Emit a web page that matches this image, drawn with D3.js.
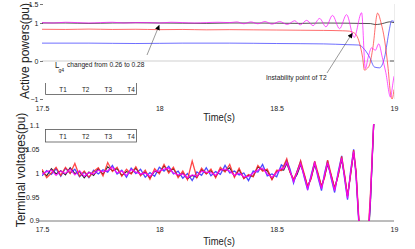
<!DOCTYPE html>
<html>
<head>
<meta charset="utf-8">
<script src="https://cdn.jsdelivr.net/npm/d3@7"></script>
<style>
  body { margin: 0; background: #fff; }
  svg { display: block; font-family: "Liberation Sans", Arial, sans-serif; }
</style>
</head>
<body>
<svg id="chart" width="415" height="249"></svg>
<script>
// ---- data ----
const xTicks = [17.5, 18, 18.5, 19]
const pTicks = [-1, 0, 1, 1.5]
const vTicks = [0.9, 0.95, 1, 1.05, 1.1]
const legendNames = ['T1', 'T2', 'T3', 'T4']

// active powers (top)
const pBlackT = [17.5, 17.6, 17.7, 17.8, 17.9, 18.0, 18.1, 18.2, 18.3, 18.4, 18.5, 18.6, 18.7, 18.8, 18.85, 18.9, 18.92, 18.94, 18.96, 18.98, 19.0]
const pBlackV = [1.0, 1.0, 0.99, 1.0, 1.005, 1.0, 0.995, 0.99, 1.0, 1.0, 0.995, 0.99, 1.0, 0.995, 0.99, 0.985, 0.96, 0.97, 1.0, 1.03, 1.01]

const pBlueT = [17.5, 17.7, 17.9, 18.1, 18.3, 18.5, 18.7, 18.8, 18.85, 18.875, 18.896, 18.917, 18.938, 18.96, 18.97, 18.98, 18.99, 19.0]
const pBlueV = [0.47, 0.47, 0.46, 0.47, 0.47, 0.46, 0.45, 0.43, 0.42, 0.3, 0.1, -0.16, -0.18, 0.1, 0.45, 0.82, 1.06, 1.04]

const pRedT = [17.5, 17.6, 17.7, 17.8, 17.9, 18.0, 18.1, 18.2, 18.3, 18.4, 18.5, 18.6, 18.7, 18.78, 18.81, 18.823, 18.84, 18.853, 18.866, 18.874, 18.885, 18.896, 18.91, 18.93, 18.945, 18.96, 18.975, 18.985, 18.992, 19.0]
const pRedV = [0.835, 0.83, 0.84, 0.83, 0.835, 0.825, 0.83, 0.82, 0.825, 0.82, 0.815, 0.81, 0.805, 0.795, 0.785, 0.76, 0.68, 0.47, 0.1, -0.24, -0.2, -0.1, 0.35, 1.26, 1.0, 0.55, -0.2, -0.85, -1.0, -0.75]

const pMagT = [17.5, 17.55, 17.6, 17.65, 17.7, 17.75, 17.8, 17.85, 17.9, 17.95, 18.0, 18.05, 18.1, 18.15, 18.2, 18.25, 18.3,
  18.33, 18.36, 18.39, 18.42, 18.45, 18.48, 18.513, 18.545, 18.577, 18.6, 18.628, 18.655, 18.683, 18.71, 18.738, 18.768, 18.798, 18.83, 18.862,
  18.878, 18.89, 18.905, 18.92, 18.935, 18.95, 18.965, 18.985, 18.995, 19.0]
const pMagV = [1.01, 1.0, 1.02, 1.01, 1.0, 1.01, 1.02, 1.0, 1.01, 1.01, 1.0, 1.02, 1.01, 1.0, 1.01, 1.02, 1.01,
  1.03, 0.98, 1.03, 0.98, 1.04, 0.97, 1.04, 0.96, 1.06, 0.95, 1.07, 0.93, 1.12, 0.9, 1.2, 0.85, 1.22, 0.62, 1.27,
  -0.2, 0.1, 0.35, 0.28, 0.45, 0.1, -0.3, -0.95, -0.6, -0.4]

// terminal voltages (bottom): noisy part sampled every 0.02 s, then the growing swing
const vNoiseT = d3.range(0, 52).map(i => 17.5 + i * 0.02)
const vSwingT = [18.53, 18.543, 18.557, 18.572, 18.587, 18.602, 18.617, 18.632, 18.647, 18.662, 18.676, 18.691, 18.704, 18.717, 18.732, 18.747, 18.762, 18.777, 18.79, 18.802, 18.815, 18.828, 18.838, 18.85, 18.865, 18.885, 18.9, 18.913, 18.925]

const vBlack = [1.004, 0.994, 1.009, 0.998, 1.005, 0.996, 1.011, 0.999, 1.003, 0.990, 1.002, 0.995, 1.009, 0.997, 1.013, 1.005, 1.009, 0.995, 1.003, 0.999, 1.010, 0.996, 1.002, 0.990, 1.004, 1.001, 1.015, 1.003, 1.009, 0.993, 1.000, 0.988, 0.995, 0.991, 1.007, 0.999, 1.005, 0.992, 1.008, 1.004, 1.011, 0.993, 1.007, 0.989, 0.995, 0.993, 1.013, 1.006, 1.005, 0.987, 1.003, 1.007,
  1.006, 1.02, 1.002, 0.985, 0.997, 1.017, 0.997, 0.971, 0.99, 1.017, 0.998, 0.972, 0.992, 1.018, 0.996, 0.968, 0.995, 1.028, 0.993, 0.951, 0.997, 1.042, 1.003, 0.9, 0.79, 0.81, 0.94, 1.095, 1.2]
const vBlue = [0.994, 1.005, 0.997, 1.009, 0.993, 1.010, 1.000, 1.008, 0.992, 1.002, 0.990, 1.006, 0.998, 1.007, 1.002, 1.016, 0.998, 1.006, 0.991, 1.010, 0.999, 1.008, 0.991, 1.001, 0.993, 1.012, 1.004, 1.014, 0.998, 1.004, 0.989, 0.999, 0.984, 1.002, 0.995, 1.011, 0.994, 1.003, 0.997, 1.016, 1.000, 1.004, 0.996, 1.000, 0.984, 1.004, 1.002, 1.018, 0.994, 0.998, 0.992, 1.017,
  1.013, 1.027, 1.008, 0.979, 1.004, 1.024, 0.992, 0.964, 0.996, 1.024, 0.991, 0.963, 0.999, 1.026, 0.989, 0.959, 1.002, 1.036, 0.986, 0.944, 1.004, 1.05, 0.996, 0.895, 0.8, 0.82, 0.95, 1.1, 1.2]
const vRed = [1.008, 0.990, 1.000, 1.012, 0.995, 1.012, 0.999, 1.020, 0.993, 1.004, 0.991, 1.003, 1.011, 0.994, 1.022, 1.003, 1.012, 0.993, 1.008, 0.998, 1.013, 0.994, 1.006, 0.987, 1.009, 0.998, 1.018, 1.000, 1.012, 0.990, 1.004, 0.986, 1.025, 0.990, 1.010, 0.998, 1.008, 0.990, 1.012, 1.002, 1.018, 0.991, 1.010, 0.988, 0.997, 0.992, 1.016, 1.004, 1.008, 0.986, 1.006, 1.005,
  1.015, 1.03, 1.001, 0.987, 1.003, 1.026, 0.999, 0.972, 0.988, 1.025, 1.0, 0.972, 0.99, 1.027, 0.997, 0.968, 0.994, 1.035, 0.995, 0.952, 0.996, 1.048, 1.006, 0.905, 0.8, 0.83, 0.96, 1.1, 1.2]
const vMag = [0.998, 1.003, 1.006, 0.995, 1.004, 0.999, 1.008, 0.996, 1.005, 0.993, 1.001, 0.998, 1.006, 1.003, 1.005, 1.012, 1.000, 1.004, 0.995, 1.007, 1.002, 0.998, 1.000, 0.993, 1.004, 1.004, 1.008, 1.010, 1.000, 0.996, 0.998, 0.990, 0.996, 0.993, 1.004, 1.002, 1.001, 0.995, 1.006, 1.008, 1.004, 0.995, 1.000, 0.992, 0.993, 1.000, 1.006, 1.010, 0.998, 0.991, 1.001, 1.010,
  1.009, 1.022, 1.004, 0.982, 1.001, 1.019, 0.994, 0.967, 0.993, 1.021, 0.994, 0.967, 0.996, 1.021, 0.992, 0.963, 0.999, 1.031, 0.989, 0.947, 1.001, 1.045, 0.999, 0.9, 0.8, 0.82, 0.95, 1.1, 1.2]

const colors = { black: '#000', blue: '#2a2aff', red: '#ff2626', mag: '#ff00ff' }

// ---- drawing ----
const svg = d3.select('#chart')
const x = d3.scaleLinear().domain([17.5, 19]).range([42, 394])
const yP = d3.scaleLinear().domain([-1, 1.5]).range([99, 4])
const yV = d3.scaleLinear().domain([0.9, 1.1]).range([220.5, 125.5])

const zip = (ts, vs) => ts.map((t, i) => [t, vs[i]])

function narrowText(g, txt, px, py, size, k, anchor) {
  return g.append('text')
    .attr('transform', `translate(${px},${py}) scale(${k},1)`)
    .attr('font-size', size)
    .attr('text-anchor', anchor || 'start')
    .attr('fill', '#222')
    .text(txt)
}

const defs = svg.append('defs')
defs.append('clipPath').attr('id', 'clipTop').append('rect')
  .attr('x', 42).attr('y', 0).attr('width', 352).attr('height', 101)
defs.append('clipPath').attr('id', 'clipBot').append('rect')
  .attr('x', 42).attr('y', 124).attr('width', 352).attr('height', 97)
defs.append('marker').attr('id', 'head')
  .attr('viewBox', '0 0 10 10').attr('refX', 10).attr('refY', 5)
  .attr('markerWidth', 6).attr('markerHeight', 5).attr('orient', 'auto')
  .attr('markerUnits', 'userSpaceOnUse')
  .append('path').attr('d', 'M0,0L10,5L0,10z').attr('fill', '#000')

// ===== top panel: active powers =====
const topG = svg.append('g')

topG.append('line')
  .attr('x1', x(17.5)).attr('x2', x(19)).attr('y1', yP(0)).attr('y2', yP(0))
  .attr('stroke', '#cfcfcf').attr('stroke-width', 1)
topG.append('line')
  .attr('x1', x(19) + 0.5).attr('x2', x(19) + 0.5).attr('y1', yP(1.5)).attr('y2', yP(-1))
  .attr('stroke', '#ececec').attr('stroke-width', 1)
topG.append('line')
  .attr('x1', x(19) - 4).attr('x2', x(19)).attr('y1', yP(0)).attr('y2', yP(0))
  .attr('stroke', '#666').attr('stroke-width', 1)

const topAxisY = topG.append('g').attr('transform', `translate(${x(17.5) + 1},0)`)
  .call(d3.axisLeft(yP).tickValues(pTicks).tickSize(3).tickPadding(1.5).tickFormat(d3.format('')))
topAxisY.select('.domain').remove()
topAxisY.selectAll('line').attr('stroke', '#777')
topAxisY.selectAll('text').attr('font-size', 7).attr('fill', '#222').attr('font-family', 'Liberation Sans, Arial, sans-serif')

const topAxisX = topG.append('g').attr('transform', 'translate(0,106.5)')
  .call(d3.axisBottom(x).tickValues(xTicks).tickSize(0).tickPadding(0).tickFormat(d3.format('')))
topAxisX.select('.domain').remove()
topAxisX.selectAll('text').attr('font-size', 7).attr('fill', '#222').attr('font-family', 'Liberation Sans, Arial, sans-serif')

const lineP = d3.line().x(d => x(d[0])).y(d => yP(d[1])).curve(d3.curveMonotoneX)
const topLines = topG.append('g').attr('clip-path', 'url(#clipTop)').attr('fill', 'none')
const topSeries = [
  [zip(pBlackT, pBlackV), colors.black],
  [zip(pBlueT, pBlueV), colors.blue],
  [zip(pRedT, pRedV), colors.red],
  [zip(pMagT, pMagV), colors.mag]
]
topSeries.forEach(([pts, c]) => {
  topLines.append('path').attr('d', lineP(pts)).attr('stroke', c).attr('stroke-width', 0.8).attr('opacity', 0.85)
})

// legend (top edge not visible in the reference)
const legTop = topG.append('g').attr('stroke', '#555').attr('stroke-width', 0.8)
legTop.append('line').attr('x1', 45.5).attr('x2', 45.5).attr('y1', 83).attr('y2', 94.5)
legTop.append('line').attr('x1', 45.5).attr('x2', 136.5).attr('y1', 94.5).attr('y2', 94.5)
legTop.append('line').attr('x1', 136.5).attr('x2', 136.5).attr('y1', 83).attr('y2', 94.5)
const legX = d3.scalePoint().domain(legendNames).range([63, 131])
legendNames.forEach(n => narrowText(topG, n, legX(n), 91.5, 8, 0.8, 'middle'))

// annotations
const ann = topG.append('g')
narrowText(ann, 'L', 55, 67.5, 9, 0.85)
narrowText(ann, 'g4', 58.5, 71.5, 6, 0.85)
narrowText(ann, 'changed from 0.26 to 0.28', 67, 66.5, 8, 0.83)
ann.append('line')
  .attr('x1', 147).attr('y1', 55).attr('x2', x(18.0)).attr('y2', yP(0.95))
  .attr('stroke', '#555').attr('stroke-width', 0.6).attr('marker-end', 'url(#head)')

narrowText(ann, 'Instability point of T2', 266, 80, 8, 0.83)
ann.append('line')
  .attr('x1', 327).attr('y1', 73).attr('x2', x(18.823)).attr('y2', yP(0.74))
  .attr('stroke', '#555').attr('stroke-width', 0.6).attr('marker-end', 'url(#head)')

narrowText(topG, 'Time(s)', 219, 121, 11.5, 0.82, 'middle')
svg.append('text').attr('transform', 'translate(28.6,51) rotate(-90)')
  .attr('text-anchor', 'middle').attr('font-size', 12).attr('fill', '#222').text('Active powers(pu)')

// ===== bottom panel: terminal voltages =====
const botG = svg.append('g')
botG.append('line')
  .attr('x1', 39).attr('x2', x(19)).attr('y1', 221).attr('y2', 221)
  .attr('stroke', '#7a7a7a').attr('stroke-width', 1)

const botAxisY = botG.append('g').attr('transform', `translate(${x(17.5)},0)`)
  .call(d3.axisLeft(yV).tickValues(vTicks).tickSize(0).tickPadding(2.5).tickFormat(d3.format('')))
botAxisY.select('.domain').remove()
botAxisY.selectAll('text').attr('font-size', 7).attr('fill', '#222').attr('font-family', 'Liberation Sans, Arial, sans-serif')

const botAxisX = botG.append('g').attr('transform', 'translate(0,227.5)')
  .call(d3.axisBottom(x).tickValues(xTicks).tickSize(0).tickPadding(0).tickFormat(d3.format('')))
botAxisX.select('.domain').remove()
botAxisX.selectAll('text').attr('font-size', 7).attr('fill', '#222').attr('font-family', 'Liberation Sans, Arial, sans-serif')

const vT = vNoiseT.concat(vSwingT)
const lineV = d3.line().x(d => x(d[0])).y(d => yV(d[1]))
const botLines = botG.append('g').attr('clip-path', 'url(#clipBot)').attr('fill', 'none')
const botSeries = [
  [zip(vT, vBlack), colors.black, 1.1],
  [zip(vT, vBlue), colors.blue, 1.3],
  [zip(vT, vRed), colors.red, 1.3],
  [zip(vT, vMag), colors.mag, 1.3]
]
botSeries.forEach(([pts, c, w]) => {
  botLines.append('path').attr('d', lineV(pts)).attr('stroke', c).attr('stroke-width', w).attr('opacity', 0.85)
})

botG.append('rect').attr('x', 45.5).attr('y', 129.5).attr('width', 91).attr('height', 12.5)
  .attr('fill', '#fff').attr('stroke', '#555').attr('stroke-width', 0.8)
legendNames.forEach(n => narrowText(botG, n, legX(n), 138.5, 8, 0.8, 'middle'))

narrowText(botG, 'Time(s)', 219, 245, 11.5, 0.82, 'middle')
svg.append('text').attr('transform', 'translate(25.3,170) rotate(-90)')
  .attr('text-anchor', 'middle').attr('font-size', 12).attr('fill', '#222').text('Terminal voltages(pu)')
</script>
</body>
</html>
